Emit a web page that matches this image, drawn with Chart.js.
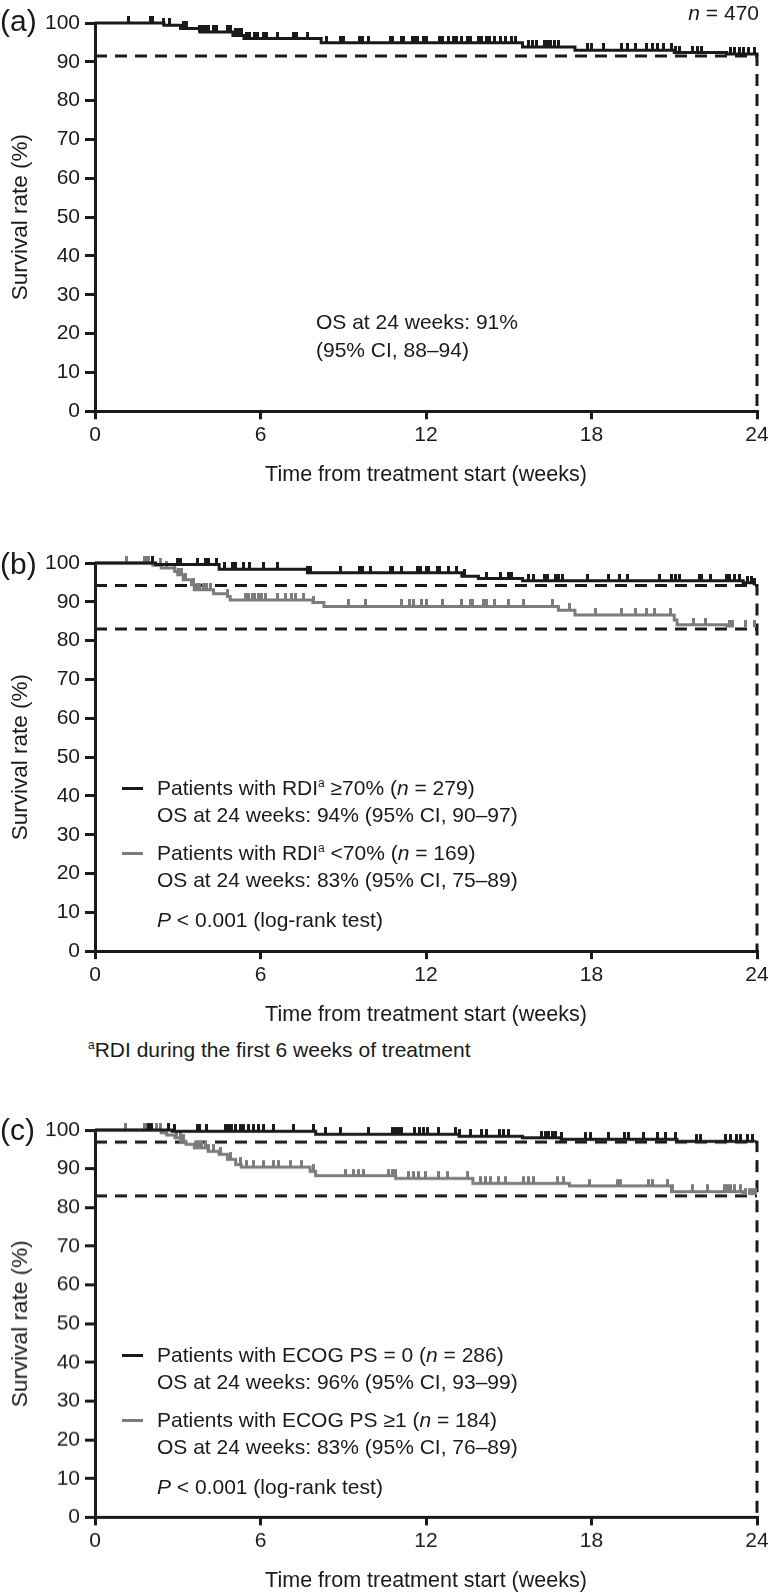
<!DOCTYPE html>
<html lang="en">
<head>
<meta charset="utf-8">
<title>Overall survival at 24 weeks</title>
<script src="https://cdn.jsdelivr.net/npm/chart.js@4.4.1/dist/chart.umd.min.js"></script>
<style>
    html, body { margin: 0; padding: 0; background: #fff; overflow: hidden; }
    body { position: relative; width: 770px; height: 1593px; font-family: "Liberation Sans", Arial, sans-serif; color: #1a1a1a; }
    .panel { position: absolute; left: 0; width: 770px; }
    .txt { position: absolute; font-size: 21px; line-height: 24px; white-space: nowrap; }
    .etiqueta { position: absolute; left: 0; font-size: 30px; line-height: 34px; }
    .muestra { position: absolute; left: 122px; width: 21px; height: 3px; }
    sup { font-size: 12px; line-height: 0; vertical-align: 8px; }
</style>
</head>
<body>

<div class="panel" id="box-a"><canvas id="chart-a"></canvas></div>
<div class="panel" id="box-b"><canvas id="chart-b"></canvas></div>
<div class="panel" id="box-c"><canvas id="chart-c"></canvas></div>

<div class="etiqueta" style="top:4px">(a)</div>
<div class="etiqueta" style="top:547px">(b)</div>
<div class="etiqueta" style="top:1113px">(c)</div>

<div class="txt" style="top:1px; right:11px"><i>n</i> = 470</div>
<div class="txt" style="top:310px; left:316px">OS at 24 weeks: 91%</div>
<div class="txt" style="top:338px; left:316px">(95% CI, 88–94)</div>

<div class="muestra" style="top:787px; background:#1a1a1a"></div>
<div class="txt" style="top:776px; left:157px">Patients with RDI<sup>a</sup> ≥70% (<i>n</i> = 279)</div>
<div class="txt" style="top:803px; left:157px">OS at 24 weeks: 94% (95% CI, 90–97)</div>
<div class="muestra" style="top:852px; background:#7c7c7c"></div>
<div class="txt" style="top:841px; left:157px">Patients with RDI<sup>a</sup> &lt;70% (<i>n</i> = 169)</div>
<div class="txt" style="top:868px; left:157px">OS at 24 weeks: 83% (95% CI, 75–89)</div>
<div class="txt" style="top:908px; left:157px"><i>P</i> &lt; 0.001 (log-rank test)</div>
<div class="txt" style="top:1038px; left:88px"><sup>a</sup>RDI during the first 6 weeks of treatment</div>

<div class="muestra" style="top:1354px; background:#1a1a1a"></div>
<div class="txt" style="top:1343px; left:157px">Patients with ECOG PS = 0 (<i>n</i> = 286)</div>
<div class="txt" style="top:1370px; left:157px">OS at 24 weeks: 96% (95% CI, 93–99)</div>
<div class="muestra" style="top:1419px; background:#7c7c7c"></div>
<div class="txt" style="top:1408px; left:157px">Patients with ECOG PS ≥1 (<i>n</i> = 184)</div>
<div class="txt" style="top:1435px; left:157px">OS at 24 weeks: 83% (95% CI, 76–89)</div>
<div class="txt" style="top:1475px; left:157px"><i>P</i> &lt; 0.001 (log-rank test)</div>

<script>
// ==========================
// Datos
// ==========================

const ticksX = [0, 6, 12, 18, 24];
const ticksY = [0, 10, 20, 30, 40, 50, 60, 70, 80, 90, 100];

// (a) todos los pacientes
const tiemposA = [0, 2.5, 3.1, 3.8, 5.0, 5.4, 8.2, 15.5, 17.4, 21.0, 22.9, 24];
const survA = [100, 99.4, 98.6, 97.7, 96.8, 96.0, 94.9, 93.8, 93.0, 92.4, 92.0, 91.6];
const censA = [1.2, 2.0, 2.1, 2.5, 2.7, 3.2, 3.3, 3.8, 3.9, 4.0, 4.1, 4.3, 4.4, 4.8, 4.9, 5.1, 5.2, 5.3,
    5.5, 5.6, 5.8, 5.9, 6.1, 6.2, 6.6, 7.2, 7.3, 7.7, 8.4, 8.9, 9.0, 9.6, 9.7, 9.9, 10.7, 10.8, 11.1,
    11.2, 11.5, 11.6, 11.7, 11.9, 12.0, 12.5, 12.6, 12.8, 13.0, 13.1, 13.3, 13.5, 13.6, 13.9, 14.0,
    14.2, 14.3, 14.5, 14.7, 14.9, 15.1, 15.25, 15.7, 15.85, 16.0, 16.3, 16.4, 16.5, 16.65, 16.8, 17.85,
    18.0, 18.45, 19.1, 19.3, 19.6, 20.0, 20.2, 20.4, 20.6, 20.9, 21.05, 21.2, 21.65, 21.85, 22.0,
    23.05, 23.2, 23.35, 23.5, 23.7, 23.9];
const corteA = 91.5;

// (b) por RDI
const tiemposB1 = [0, 2.2, 4.5, 7.7, 13.3, 13.9, 15.5, 23.5, 23.9];
const survB1 = [100, 99.6, 98.4, 97.5, 96.6, 96.0, 95.4, 94.9, 94.3];
const censB1 = [2.1, 3.0, 3.1, 3.7, 4.0, 4.1, 4.4, 4.7, 5.0, 5.1, 5.4, 5.6, 6.1, 6.6, 7.7, 7.8, 8.9,
    9.6, 9.7, 10.0, 10.7, 10.8, 11.1, 11.7, 11.8, 12.0, 12.1, 12.4, 12.5, 12.8, 13.1, 13.4, 14.2, 14.7,
    15.0, 15.1, 15.7, 15.9, 16.3, 16.4, 16.7, 16.8, 16.95, 17.85, 18.6, 19.0, 19.3, 20.45, 20.9, 21.05,
    21.2, 21.9, 22.0, 22.3, 22.9, 23.0, 23.2, 23.35, 23.65, 23.8, 23.9];
const tiemposB2 = [0, 2.1, 2.4, 2.9, 3.0, 3.2, 3.5, 3.6, 4.3, 4.8, 4.9, 7.9, 8.3, 16.8, 17.4, 21.0, 21.1, 22.9];
const survB2 = [100, 99.4, 98.7, 97.8, 97.0, 95.7, 94.4, 93.1, 92.1, 91.4, 90.5, 89.8, 88.8, 87.8, 86.6, 85.3, 84.1, 83.4];
const censB2 = [1.15, 1.8, 1.87, 1.94, 2.1, 2.36, 2.6, 2.9, 3.03, 3.15, 3.27, 3.57, 3.7, 3.8, 3.93,
    4.05, 4.17, 4.8, 5.44, 5.57, 5.7, 5.8, 5.93, 6.05, 6.17, 6.6, 6.9, 7.14, 7.26, 7.56, 7.92, 9.2,
    9.8, 11.1, 11.4, 11.55, 11.85, 12.0, 12.6, 13.3, 13.6, 13.7, 14.1, 14.2, 14.5, 15.0, 15.55, 16.6,
    17.2, 18.15, 19.1, 19.6, 20.0, 20.3, 20.85, 21.7, 22.15, 23.0, 23.1, 23.6, 23.9];
const cortesB = [94.2, 83];

// (c) por ECOG PS
const tiemposC1 = [0, 2.8, 8.0, 13.2, 15.5, 16.9, 21.1, 23.9];
const survC1 = [100, 99.7, 98.9, 98.4, 98.0, 97.6, 97.1, 96.9];
const censC1 = [1.94, 2.0, 2.06, 2.66, 2.9, 3.7, 3.8, 4.05, 4.72, 4.84, 4.96, 5.08, 5.26, 5.38, 5.57,
    5.75, 5.93, 6.11, 6.47, 7.2, 7.92, 8.35, 8.9, 9.9, 10.77, 10.9, 11.0, 11.1, 11.6, 11.75, 11.9,
    12.05, 12.45, 13.07, 13.2, 13.6, 14.0, 14.2, 14.65, 14.8, 15.0, 16.2, 16.35, 16.45, 16.6, 16.7,
    16.9, 17.8, 17.97, 18.6, 19.2, 19.35, 19.9, 20.4, 20.7, 21.05, 21.8, 21.95, 22.85, 23.05, 23.25,
    23.4, 23.65, 23.85];
const tiemposC2 = [0, 2.4, 2.6, 2.9, 3.1, 3.3, 3.6, 4.1, 4.5, 4.8, 5.1, 5.3, 7.8, 8.0, 10.9, 13.7, 17.2, 20.9, 23.5];
const survC2 = [100, 99.3, 98.7, 98.0, 97.1, 96.3, 95.4, 94.5, 93.7, 92.4, 91.1, 90.4, 89.3, 88.2, 87.5, 86.2, 85.6, 84.1, 83.2];
const censC2 = [1.09, 1.81, 1.87, 2.24, 2.36, 2.97, 3.09, 3.21, 3.63, 3.75, 3.87, 3.99, 4.11, 4.29,
    4.54, 4.9, 5.26, 5.5, 5.75, 6.11, 6.47, 6.65, 7.08, 7.5, 7.92, 9.07, 9.38, 9.56, 9.74, 10.65,
    10.77, 10.89, 11.37, 11.56, 11.74, 11.98, 12.46, 12.77, 13.49, 13.98, 14.16, 14.34, 14.64, 14.88,
    15.55, 15.73, 15.91, 16.76, 17.0, 17.91, 18.94, 19.06, 20.08, 20.2, 20.75, 20.93, 21.66, 22.2,
    22.81, 22.93, 23.05, 23.17, 23.41, 23.59, 23.71, 23.84, 23.96];
const cortesC = [96.9, 83];

// ==========================
// Utilidades
// ==========================

const NEGRO = '#1a1a1a';
const GRIS = '#7c7c7c';
const FUENTE = '"Liberation Sans", Arial, sans-serif';

Chart.defaults.font.family = FUENTE;
Chart.defaults.font.size = 21;
Chart.defaults.color = NEGRO;

// marca de censura: media barra vertical hacia arriba
function marcaCensura(color) {
    const c = document.createElement('canvas');
    c.width = 3;
    c.height = 14;
    const ctx = c.getContext('2d');
    ctx.fillStyle = color;
    ctx.fillRect(0, 0, 3, 7);
    return c;
}

function valorEn(tiempos, surv, t) {
    let v = surv[0];
    tiempos.forEach((x, i) => { if (x <= t) v = surv[i]; });
    return v;
}

function curva(tiempos, surv, color) {
    return {
        data: tiempos.map((t, i) => ({ x: t, y: surv[i] })),
        stepped: 'before',
        borderColor: color,
        borderWidth: 3,
        pointRadius: 0,
        clip: false
    };
}

function censuras(tiempos, surv, cens, color) {
    return {
        data: cens.map(t => ({ x: t, y: valorEn(tiempos, surv, t) })),
        showLine: false,
        pointStyle: marcaCensura(color),
        pointRadius: 4,
        clip: false
    };
}

function discontinua(puntos) {
    return {
        data: puntos,
        borderColor: NEGRO,
        borderWidth: 3,
        borderDash: [12, 8],
        pointRadius: 0,
        clip: false
    };
}

// ==========================
// Graficos
// ==========================

function crearPanel(id, arriba, abajo, datasets) {
    const caja = document.getElementById('box-' + id);
    caja.style.top = (arriba - 20) + 'px';
    caja.style.height = (abajo - arriba + 100) + 'px';

    new Chart(document.getElementById('chart-' + id), {
        type: 'line',
        data: { datasets },
        options: {
            responsive: true,
            maintainAspectRatio: false,
            animation: false,
            events: [],
            layout: { padding: { top: 20, left: 0, right: 13, bottom: 0 } },
            plugins: { legend: { display: false }, tooltip: { enabled: false } },
            scales: {
                x: {
                    type: 'linear',
                    min: 0,
                    max: 24,
                    afterBuildTicks: s => { s.ticks = ticksX.map(v => ({ value: v })); },
                    afterFit: s => { s.height = 80; s.paddingRight = 0; s.paddingLeft = 0; },
                    grid: { drawOnChartArea: false, color: NEGRO, lineWidth: 3, tickLength: 8 },
                    border: { color: NEGRO, width: 3 },
                    ticks: { padding: 3, maxRotation: 0, font: { size: 21 } },
                    title: { display: true, text: 'Time from treatment start (weeks)', padding: { top: 0, bottom: 3.5 }, font: { size: 21.5 } }
                },
                y: {
                    type: 'linear',
                    min: 0,
                    max: 100,
                    afterBuildTicks: s => { s.ticks = ticksY.map(v => ({ value: v })); },
                    afterFit: s => { s.width = 95; },
                    grid: { drawOnChartArea: false, color: NEGRO, lineWidth: 3, tickLength: 10 },
                    border: { color: NEGRO, width: 3 },
                    ticks: { padding: 5, font: { size: 21 } },
                    title: { display: true, text: 'Survival rate (%)', padding: { top: 7, bottom: 0 }, font: { size: 22.5 } }
                }
            }
        }
    });
}

crearPanel('a', 22.7, 411, [
    curva(tiemposA, survA, NEGRO),
    censuras(tiemposA, survA, censA, NEGRO),
    discontinua([{ x: 0, y: corteA }, { x: 24, y: corteA }, { x: 24, y: 0 }])
]);

crearPanel('b', 563.3, 951.5, [
    curva(tiemposB1, survB1, NEGRO),
    censuras(tiemposB1, survB1, censB1, NEGRO),
    curva(tiemposB2, survB2, GRIS),
    censuras(tiemposB2, survB2, censB2, GRIS),
    discontinua([{ x: 0, y: cortesB[0] }, { x: 24, y: cortesB[0] }, { x: 24, y: 0 }]),
    discontinua([{ x: 0, y: cortesB[1] }, { x: 24, y: cortesB[1] }])
]);

crearPanel('c', 1130, 1516.5, [
    curva(tiemposC1, survC1, NEGRO),
    censuras(tiemposC1, survC1, censC1, NEGRO),
    curva(tiemposC2, survC2, GRIS),
    censuras(tiemposC2, survC2, censC2, GRIS),
    discontinua([{ x: 0, y: cortesC[0] }, { x: 24, y: cortesC[0] }, { x: 24, y: 0 }]),
    discontinua([{ x: 0, y: cortesC[1] }, { x: 24, y: cortesC[1] }])
]);
</script>
</body>
</html>
